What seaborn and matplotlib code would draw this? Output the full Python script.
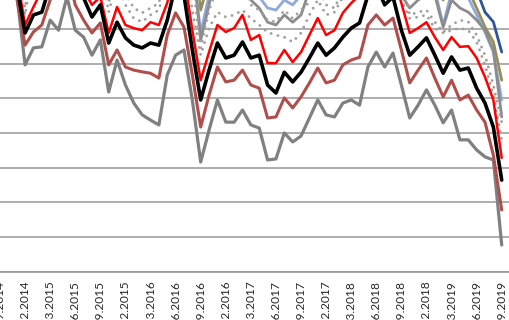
import matplotlib
matplotlib.use("Agg")
import matplotlib.pyplot as plt
import seaborn as sns
import pandas as pd
from matplotlib.ticker import MultipleLocator

# ---- data (monthly, index 0 = Dec 2014) ----
months = list(range(-3, 58))
tick_pos = list(range(-3, 58, 3))
tick_labels = ["30.09.2014", "31.12.2014", "31.03.2015", "30.06.2015", "30.09.2015",
               "31.12.2015", "31.03.2016", "30.06.2016", "30.09.2016", "31.12.2016",
               "31.03.2017", "30.06.2017", "30.09.2017", "31.12.2017", "31.03.2018",
               "30.06.2018", "30.09.2018", "31.12.2018", "31.03.2019", "30.06.2019",
               "30.09.2019"]

grey_low = [87, 84, 80, 59.6, 64.5, 64.8, 72.5, 69.6, 79.2, 69.6, 67.6, 62.4, 66.8, 51.8,
            61.0, 53.8, 48.6, 45.2, 43.7, 42.3, 56.7, 62.4, 63.9, 49.5, 31.6, 40.8, 49.5,
            43.1, 43.1, 46.6, 42.3, 41.4, 32.2, 32.5, 40.0, 37.4, 39.1, 44.3, 49.5, 45.2,
            44.6, 48.6, 49.5, 48.0, 59.0, 63.3, 59.0, 63.0, 53.8, 44.3, 48.0, 52.4, 48.0,
            42.9, 46.6, 38.0, 38.0, 35.1, 33.1, 32.2, 7.7]
brown = [90, 87, 79, 65.3, 69.1, 71.1, 78.3, 82.6, 87, 76.9, 72.5, 68.8, 71.7, 59.6, 63.9,
         59.0, 58.1, 57.6, 57.2, 55.8, 68.2, 74.6, 70.5, 56.7, 41.7, 50.9, 59.0, 54.7, 55.2,
         58.1, 53.8, 52.9, 44.3, 44.6, 50.1, 47.2, 50.4, 54.4, 58.7, 54.4, 55.2, 59.6, 61.0,
         61.8, 71.1, 74.0, 71.1, 73.1, 63.9, 54.4, 58.1, 61.6, 55.8, 50.4, 55.2, 49.5, 50.9,
         46.6, 43.1, 33.6, 17.8]
black = [94, 91, 82.6, 68.8, 74.0, 74.8, 82.6, 87, 91, 84, 78.9, 73.4, 76.9, 65.9, 71.9,
         67.4, 65.3, 64.5, 65.9, 65.3, 72.5, 82.6, 79.7, 63.9, 49.5, 58.1, 65.9, 61.6, 62.4,
         66.2, 61.6, 62.4, 53.8, 51.5, 57.5, 54.7, 57.5, 61.6, 65.9, 62.4, 64.5, 67.6, 70.2,
         71.7, 79.7, 82.6, 76.9, 79.2, 69.6, 62.4, 64.8, 67.4, 62.4, 57.2, 61.9, 58.1, 58.7,
         52.9, 48.6, 41.7, 26.4]
red = [97, 94, 85.5, 71.1, 76.3, 81.2, 87, 90, 94, 87, 81.2, 76.9, 79.2, 68.8, 76.3, 71.1,
       70.2, 69.6, 71.9, 71.1, 77.5, 87, 85.5, 69.6, 55.2, 63.3, 71.1, 69.1, 70.2, 74.0,
       66.8, 68.2, 60.1, 60.1, 63.9, 60.4, 63.3, 68.2, 73.1, 68.2, 69.6, 74.6, 77.4, 79.7,
       85.5, 88, 84, 85.5, 77.4, 68.8, 70.2, 71.9, 67.6, 63.9, 67.6, 64.8, 65.0, 61.6, 56.1,
       49.5, 32.8]
dot_low = [95, 92, 85, 74, 88, 92, 95, 97, 99, 95, 90, 86, 88, 74.8, 84, 76.9, 73, 72, 74,
           75.4, 84, 92, 91, 75.4, 62.4, 70.2, 74.8, 73.4, 74, 75.4, 73, 71.1, 69, 68.2,
           67.6, 66.2, 68.8, 74, 78.3, 74, 74.8, 79.2, 82, 84, 90, 92, 88, 90, 78.3, 73,
           73.4, 74, 70.2, 68.8, 69.6, 70.2, 69.6, 66.2, 59.6, 50.9, 38]
dot_high = [98, 95, 88, 76, 92, 96, 98, 100, 102, 98, 94, 90, 92, 77.4, 88, 80, 76, 74.6,
            76, 77.4, 88, 96, 95, 84, 64.5, 75.4, 82, 79.5, 80.5, 83, 76.9, 75.4, 72.5, 72,
            75.4, 73, 75.4, 77.7, 82, 76.9, 76, 81, 84, 86, 92, 95, 92, 94, 84, 74, 74.8,
            75.4, 72, 69, 71.1, 72.5, 72, 68.2, 62.4, 53.8, 43.1]
grey_high = [100, 98, 92, 80, 95, 97, 100, 102, 104, 100, 96, 92, 94, 80.6, 92, 88, 86, 86,
             87, 88, 94, 100, 99, 90, 66.8, 76.9, 88, 84, 86, 88, 78.3, 76, 71.9, 71.1, 74,
             71.9, 74, 81.2, 86, 82, 84, 88, 90, 92, 98, 100, 98, 99, 79.7, 76, 78.3, 79.7,
             79.7, 70.5, 78.3, 76, 74.8, 72.5, 69.6, 63.9, 44.6]
light_blue = [102, 100, 95, 84, 100, 103, 106, 108, 110, 106, 102, 98, 100, 86, 98, 94, 92,
              92, 93, 94, 100, 106, 105, 90, 68.8, 79.7, 90, 86, 88, 90, 84, 79.2, 76, 75.4,
              78.3, 76.9, 79.7, 86, 90, 86, 88, 92, 95, 97, 102, 104, 101, 103, 96, 88, 90,
              92, 81.2, 71.1, 80.6, 81.2, 78.9, 74, 69, 63.3, 49.5]
olive = [106, 104, 99, 88, 104, 107, 110, 112, 114, 110, 106, 102, 104, 90, 102, 98, 96,
         96, 97, 98, 104, 110, 109, 98, 75.4, 84, 94, 90, 92, 94, 90, 86, 83, 82, 85, 83,
         86, 92, 96, 92, 94, 98, 100, 102, 106, 108, 105, 107, 100, 92, 94, 96, 88, 78.3,
         86, 86, 81.2, 76, 70.5, 66.2, 55.2]
dark_blue = [110, 108, 104, 94, 108, 111, 114, 116, 118, 114, 110, 106, 108, 96, 106, 102,
             100, 100, 101, 102, 108, 114, 113, 104, 86, 94, 100, 96, 98, 100, 96, 92, 89,
             88, 90, 88, 91, 97, 100, 97, 99, 103, 105, 107, 111, 113, 110, 112, 105, 97,
             99, 100, 94, 86, 92, 92, 88, 81.2, 74.8, 72, 63.3]

df = pd.DataFrame({"month": months, "grey_low": grey_low, "brown": brown, "black": black,
                   "red": red, "dot_low": dot_low, "dot_high": dot_high,
                   "grey_high": grey_high, "light_blue": light_blue, "olive": olive,
                   "dark_blue": dark_blue})

sns.set_style("white")
plt.rcParams["font.family"] = ["Lato", "DejaVu Sans"]

fig = plt.figure(figsize=(5.1, 3.2), dpi=100)
ax = fig.add_axes([0, 0.1509, 1, 0.8675])

dotted = (0, (0.01, 2.4))
styles = [
    ("dark_blue", "#2F5597", 2.0, "-"),
    ("olive", "#988D55", 2.0, "-"),
    ("light_blue", "#8EA9DB", 2.0, "-"),
    ("grey_high", "#8C8C8C", 2.0, "-"),
    ("dot_high", "#A0A0A0", 2.1, dotted),
    ("dot_low", "#A0A0A0", 2.1, dotted),
    ("grey_low", "#808080", 2.3, "-"),
    ("brown", "#B04E4B", 2.2, "-"),
    ("red", "#FF0000", 1.8, "-"),
    ("black", "#000000", 2.6, "-"),
]
for col, c, lw, ls in styles:
    sns.lineplot(data=df, x="month", y=col, ax=ax, color=c, linewidth=lw, linestyle=ls,
                 dash_capstyle="round", solid_joinstyle="round", solid_capstyle="round",
                 legend=False)

ax.set_xlim(-2.577, 57.99)
ax.set_ylim(0, 80)
ax.yaxis.set_major_locator(MultipleLocator(10))
ax.grid(axis="y", color="#979797", linewidth=1.1)
ax.grid(axis="x", visible=False)
ax.set_axisbelow(True)
ax.set_yticklabels([])
ax.tick_params(axis="y", length=0)
ax.set_xticks(tick_pos)
ax.set_xticklabels(tick_labels, rotation=90, fontsize=8.6, color="#262626")
ax.tick_params(axis="x", length=0, pad=6.5)
ax.set_xlabel("")
ax.set_ylabel("")
for s in ["top", "left", "right"]:
    ax.spines[s].set_visible(False)
ax.spines["bottom"].set_color("#979797")
ax.spines["bottom"].set_linewidth(1.2)

fig.savefig("out.png", dpi=100)
